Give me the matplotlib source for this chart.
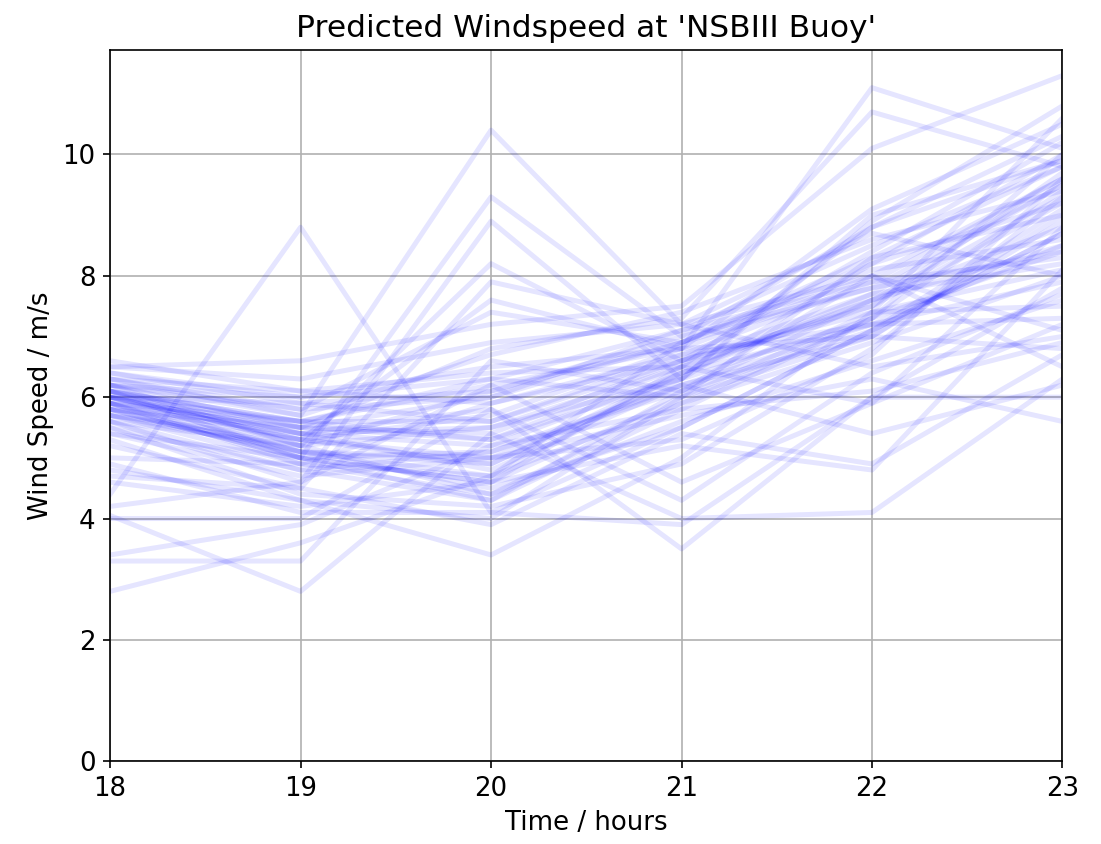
import matplotlib
matplotlib.use("Agg")
import matplotlib.pyplot as plt
import numpy as np

hours = [18, 19, 20, 21, 22, 23]

# Ensemble member wind speeds (m/s), one list per forecast hour
h18 = [6.0, 6.2, 5.9, 6.1, 5.8, 6.3, 5.7, 6.0, 6.4, 5.5, 6.1, 5.9, 6.2, 5.6, 6.0,
       5.8, 6.5, 4.0, 4.4, 3.3, 2.8, 4.05, 4.8, 5.2, 4.6, 5.4, 6.3, 6.0, 5.7, 6.6,
       5.9, 6.1, 5.5, 5.3, 6.2, 5.0, 4.7, 3.4, 5.9, 6.4, 6.0, 5.8, 6.3, 5.6, 6.1,
       5.9, 6.2, 5.7, 4.2, 6.0, 5.4, 6.5, 5.8, 6.2, 5.9, 4.9, 6.1, 5.6, 6.0, 5.8,
       6.1, 5.7]
h19 = [5.3, 5.5, 5.1, 5.6, 5.0, 5.8, 4.9, 5.4, 6.0, 4.8, 5.2, 5.0, 5.7, 4.6, 5.3,
       5.5, 6.6, 4.0, 8.8, 3.3, 3.6, 2.8, 4.3, 4.5, 4.2, 4.7, 6.1, 5.9, 5.2, 6.1,
       5.6, 5.4, 4.4, 4.3, 5.8, 4.9, 4.5, 3.9, 5.3, 5.9, 5.1, 5.4, 5.7, 4.8, 5.0,
       5.5, 5.2, 5.3, 4.6, 5.6, 5.0, 6.3, 5.1, 6.0, 4.9, 4.1, 5.5, 5.2, 5.4, 5.0,
       5.6, 5.1]
h20 = [5.0, 5.3, 4.7, 5.6, 4.6, 6.0, 4.4, 5.2, 6.3, 4.3, 8.2, 9.3, 10.4, 8.9, 7.6,
       6.8, 7.2, 5.8, 4.1, 6.6, 4.7, 5.4, 3.4, 3.9, 4.6, 5.0, 6.4, 6.1, 5.5, 5.9,
       6.3, 4.8, 4.2, 4.0, 7.4, 5.9, 7.9, 5.2, 4.9, 5.6, 4.5, 5.8, 6.7, 5.1, 4.6,
       6.0, 4.4, 5.7, 6.2, 5.3, 4.3, 6.9, 5.0, 6.5, 4.7, 4.1, 5.4, 6.1, 5.5, 5.1,
       6.2, 4.9]
h21 = [6.2, 6.5, 5.9, 6.7, 6.0, 6.9, 5.6, 6.4, 7.1, 5.8, 6.6, 7.0, 7.2, 6.3, 6.8,
       7.3, 7.5, 3.5, 5.5, 6.1, 6.9, 4.0, 5.0, 5.4, 5.2, 5.7, 6.5, 7.0, 6.3, 6.7,
       6.0, 6.2, 4.9, 6.0, 6.9, 6.6, 7.2, 5.8, 6.4, 6.6, 5.5, 4.3, 7.4, 6.2, 6.5,
       7.1, 5.9, 6.8, 4.6, 6.3, 6.1, 7.2, 5.3, 6.8, 6.4, 3.9, 6.6, 6.9, 6.5, 6.1,
       6.8, 6.3]
h22 = [7.2, 7.5, 6.9, 7.9, 7.0, 8.2, 6.6, 7.6, 8.5, 7.3, 7.7, 8.8, 6.5, 9.0, 11.1,
       10.7, 10.1, 6.0, 7.1, 8.0, 7.8, 4.1, 7.4, 4.9, 4.8, 6.3, 5.9, 7.8, 8.9, 7.2,
       8.3, 7.0, 6.8, 7.4, 8.1, 7.5, 8.7, 6.1, 7.7, 8.4, 7.1, 6.4, 8.6, 5.4, 8.8,
       7.9, 7.3, 7.0, 5.9, 8.2, 7.6, 8.0, 6.7, 9.1, 7.2, 6.0, 7.4, 8.3, 7.6, 7.1,
       8.0, 7.3]
h23 = [8.5, 9.2, 8.0, 9.6, 9.0, 10.0, 7.6, 8.8, 9.8, 9.4, 8.2, 10.3, 7.0, 9.9, 10.1,
       9.8, 11.3, 7.8, 8.7, 6.5, 9.5, 6.3, 10.6, 6.7, 8.1, 5.6, 7.2, 8.4, 10.8, 7.3,
       9.0, 8.9, 9.3, 7.5, 8.6, 9.7, 8.0, 6.9, 9.5, 10.2, 9.1, 7.7, 9.4, 6.2, 9.9,
       8.3, 10.0, 6.8, 8.8, 9.2, 8.5, 7.1, 9.6, 10.5, 7.9, 6.0, 8.1, 9.8, 9.3, 8.7,
       9.6, 8.4]

members = np.array([h18, h19, h20, h21, h22, h23]).T

plt.rcParams["font.size"] = 12.5

fig, ax = plt.subplots(figsize=(7.34, 5.627), dpi=150)
fig.subplots_adjust(left=0.1, right=0.965, top=0.941, bottom=0.098)

for row in members:
    ax.plot(hours, row, color="b", alpha=0.1, linewidth=2.4)

ax.set_xlim(18, 23)
ax.set_ylim(bottom=0)
ax.grid(True)
ax.set_title("Predicted Windspeed at 'NSBIII Buoy'")
ax.set_xlabel("Time / hours")
ax.set_ylabel("Wind Speed / m/s")

fig.savefig("out.png", dpi=150)
